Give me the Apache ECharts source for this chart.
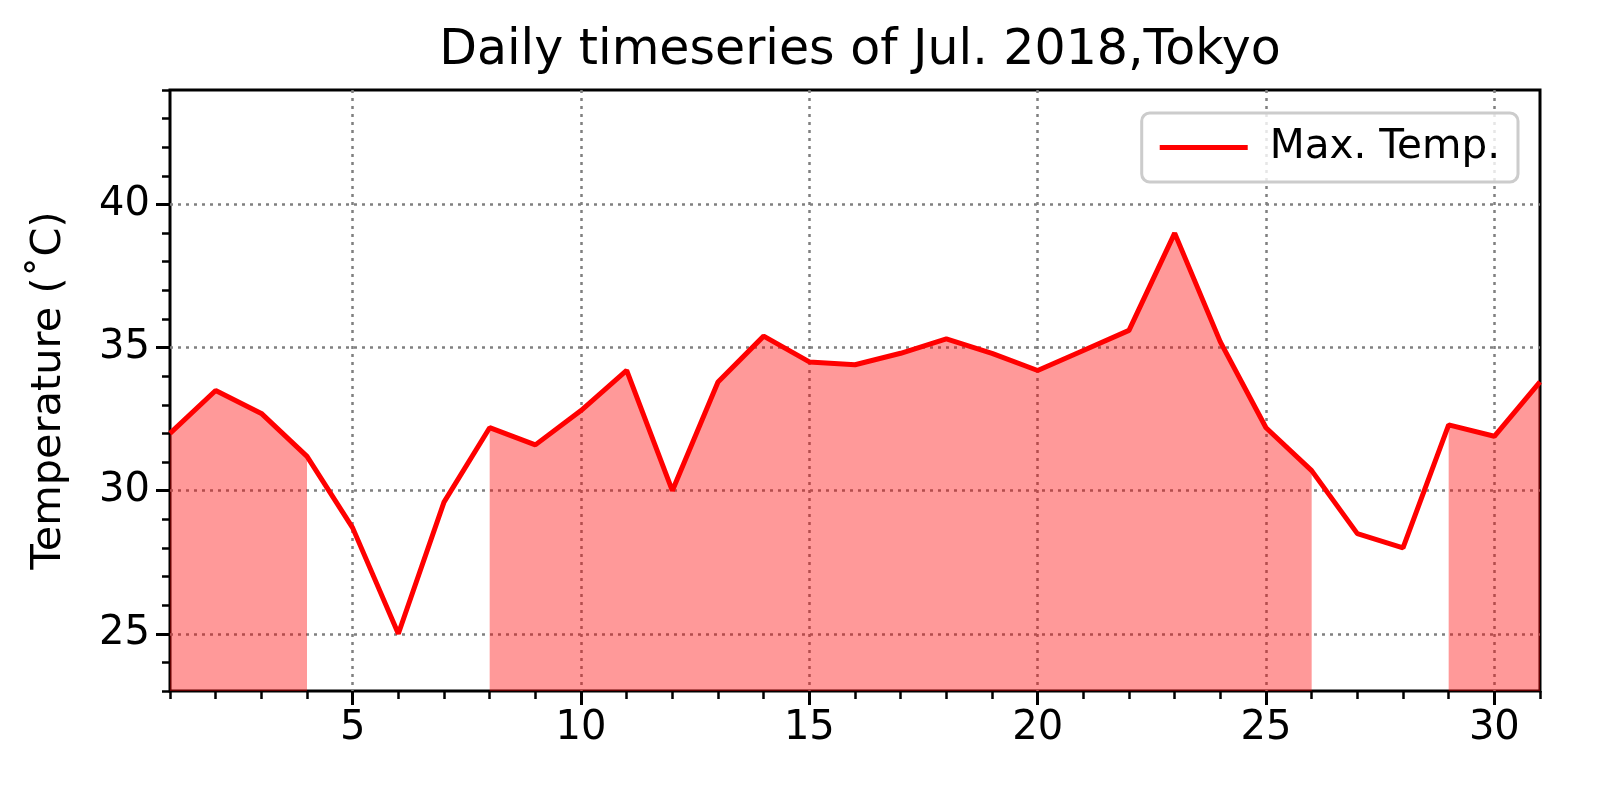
<!DOCTYPE html>
<html>
<head>
<meta charset="utf-8">
<script src="https://cdn.jsdelivr.net/npm/echarts@6/dist/echarts.min.js"></script>
<style>
  html, body { margin: 0; padding: 0; background: #fff; }
  #chart { width: 1597px; height: 804px; }
</style>
</head>
<body>
<div id="chart"></div>
<script>
// Daily max temperature, Tokyo, July 2018.
const days = [1, 2, 3, 4, 5, 6, 7, 8, 9, 10, 11, 12, 13, 14, 15, 16,
  17, 18, 19, 20, 21, 22, 23, 24, 25, 26, 27, 28, 29, 30, 31];
const maxTemp = [32.0, 33.5, 32.7, 31.2, 28.7, 25.0, 29.6, 32.2, 31.6, 32.8, 34.2,
  30.0, 33.8, 35.4, 34.5, 34.4, 34.8, 35.3, 34.8, 34.2, 34.9, 35.6,
  39.0, 35.2, 32.2, 30.7, 28.5, 28.0, 32.3, 31.9, 33.8];
const hotThreshold = 30;          // shaded where the max temp reaches 30 °C
const xTicks = [5, 10, 15, 20, 25, 30];
const yTicks = [25, 30, 35, 40];

const FONT = "DejaVu Sans";
const lineData = days.map((d, i) => [d, maxTemp[i]]);
// nulls break the area into the separate shaded runs
const fillData = days.map((d, i) => [d, maxTemp[i] >= hotThreshold ? maxTemp[i] : null]);

const grid = { left: 170, right: 57, top: 90, bottom: 113 };
const dotted = { show: true, lineStyle: { color: "#808080", type: [3, 5], width: 2.5 } };

const chart = echarts.init(document.getElementById("chart"), null, { renderer: "canvas" });
chart.setOption({
  backgroundColor: "#fff",
  animation: false,
  textStyle: { fontFamily: FONT },
  title: {
    text: "Daily timeseries of Jul. 2018,Tokyo",
    left: 855, top: 22, textAlign: "center",
    textStyle: { fontFamily: FONT, fontSize: 49, fontWeight: "normal", color: "#000" },
  },
  legend: {
    data: [{ name: "Max. Temp.", icon: "rect" }],
    right: 79, top: 113,
    itemWidth: 88, itemHeight: 5, itemGap: 10,
    padding: [14, 18, 14, 18],
    borderColor: "#cccccc", borderWidth: 3, borderRadius: 8,
    backgroundColor: "rgba(255,255,255,0.8)",
    textStyle: { fontFamily: FONT, fontSize: 40.5, color: "#000", padding: [0, 0, 0, 17] },
  },
  grid: { ...grid, show: true, borderColor: "#000", borderWidth: 3, backgroundColor: "transparent" },
  xAxis: [
    {
      type: "value", min: 1, max: 31,
      axisLine: { show: false },
      axisTick: { customValues: xTicks, length: 14, lineStyle: { color: "#000", width: 3 } },
      axisLabel: { customValues: xTicks, color: "#000", fontSize: 40, fontFamily: FONT, margin: 18 },
      splitLine: dotted,
    },
    {
      type: "value", min: 1, max: 31, interval: 1, position: "bottom",
      axisLine: { show: false },
      axisTick: { length: 8, lineStyle: { color: "#000", width: 2.5 } },
      axisLabel: { show: false },
      splitLine: { show: false },
    },
  ],
  yAxis: [
    {
      type: "value", min: 23, max: 44,
      name: "Temperature (˚C)", nameLocation: "middle", nameGap: 100,
      nameTextStyle: { fontFamily: FONT, fontSize: 41.5, color: "#000" },
      axisLine: { show: false },
      axisTick: { customValues: yTicks, length: 14, lineStyle: { color: "#000", width: 3 } },
      axisLabel: { customValues: yTicks, color: "#000", fontSize: 40, fontFamily: FONT, margin: 20 },
      splitLine: dotted,
    },
    {
      type: "value", min: 23, max: 44, interval: 1, position: "left",
      axisLine: { show: false },
      axisTick: { length: 8, lineStyle: { color: "#000", width: 2.5 } },
      axisLabel: { show: false },
      splitLine: { show: false },
    },
  ],
  series: [
    {
      name: "hot",
      type: "line",
      data: fillData,
      xAxisIndex: 0, yAxisIndex: 0,
      showSymbol: false, symbol: "none",
      connectNulls: false,
      lineStyle: { width: 0 },
      areaStyle: { color: "rgba(255,0,0,0.4)", origin: "start", opacity: 1 },
      z: 1,
      silent: true,
    },
    {
      name: "Max. Temp.",
      type: "line",
      data: lineData,
      xAxisIndex: 0, yAxisIndex: 0,
      showSymbol: false, symbol: "none",
      itemStyle: { color: "#ff0000" },
      lineStyle: { color: "#ff0000", width: 5 },
      z: 3,
    },
  ],
});
</script>
</body>
</html>
